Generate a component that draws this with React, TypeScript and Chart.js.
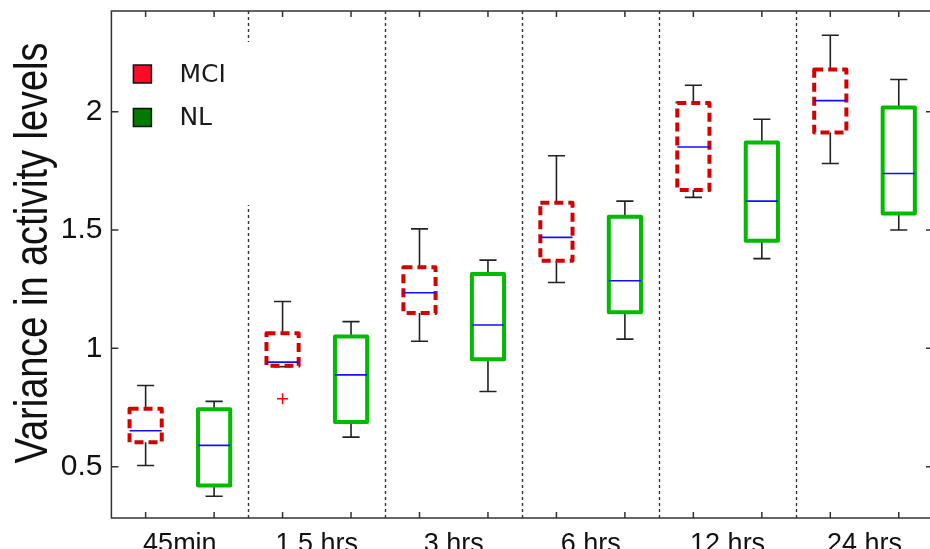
import React, { useEffect, useRef } from 'react';
import { Chart, registerables } from 'chart.js';

Chart.register(...registerables);

// ---- data ----
const categories = ['45min', '1.5 hrs', '3 hrs', '6 hrs', '12 hrs', '24 hrs'];
const seriesNames = ['MCI', 'NL'];

const mciLow = [0.505, 0.922, 1.030, 1.278, 1.638, 1.781];
const mciQ1 = [0.603, 0.926, 1.149, 1.370, 1.669, 1.912];
const mciMedian = [0.652, 0.942, 1.235, 1.469, 1.851, 2.047];
const mciQ3 = [0.745, 1.064, 1.343, 1.615, 2.037, 2.178];
const mciHigh = [0.843, 1.198, 1.505, 1.814, 2.112, 2.323];

const nlLow = [0.375, 0.625, 0.818, 1.039, 1.379, 1.500];
const nlQ1 = [0.421, 0.689, 0.954, 1.153, 1.455, 1.570];
const nlMedian = [0.590, 0.888, 1.099, 1.286, 1.622, 1.739];
const nlQ3 = [0.743, 1.050, 1.314, 1.556, 1.870, 2.018];
const nlHigh = [0.776, 1.113, 1.373, 1.622, 1.968, 2.136];

const outlierGroup = [1];
const outlierSeries = [0];
const outlierValues = [0.787];

const yTicks = [0.5, 1, 1.5, 2];
const yTitle = 'Variance in activity levels';

const series = [
  { name: seriesNames[0], low: mciLow, q1: mciQ1, med: mciMedian, q3: mciQ3, high: mciHigh, color: '#d40000', dash: [9, 5], legendFill: '#ff0a28' },
  { name: seriesNames[1], low: nlLow, q1: nlQ1, med: nlMedian, q3: nlQ3, high: nlHigh, color: '#00bb00', dash: [], legendFill: '#007a00' },
];

const posOf = (g: number, s: number) => 2 * g + s + 1;

const BOX_HALF = 0.235;
const CAP_HALF = 0.125;

const boxPlugin = {
  id: 'boxPlot',
  beforeDatasetsDraw(chart: any) {
    const { ctx, chartArea: a, scales } = chart;
    const x = scales.x;
    const y = scales.y;
    ctx.save();
    // group dividers
    ctx.strokeStyle = '#333';
    ctx.lineWidth = 1.4;
    ctx.setLineDash([3, 3]);
    for (let g = 1; g < categories.length; g++) {
      const px = Math.round(x.getPixelForValue(2 * g + 0.5)) + 0.5;
      ctx.beginPath();
      ctx.moveTo(px, a.top);
      ctx.lineTo(px, a.bottom);
      ctx.stroke();
    }
    ctx.setLineDash([]);
    const unit = x.getPixelForValue(1) - x.getPixelForValue(0);
    series.forEach((s, si) => {
      for (let g = 0; g < categories.length; g++) {
        const cx = x.getPixelForValue(posOf(g, si));
        const hw = BOX_HALF * unit;
        const cw = CAP_HALF * unit;
        const yl = y.getPixelForValue(s.low[g]);
        const y1 = y.getPixelForValue(s.q1[g]);
        const ym = y.getPixelForValue(s.med[g]);
        const y3 = y.getPixelForValue(s.q3[g]);
        const yh = y.getPixelForValue(s.high[g]);
        // whiskers
        ctx.strokeStyle = '#222';
        ctx.lineWidth = 1.6;
        ctx.setLineDash([]);
        ctx.beginPath();
        ctx.moveTo(cx, y3); ctx.lineTo(cx, yh);
        ctx.moveTo(cx - cw, yh); ctx.lineTo(cx + cw, yh);
        ctx.moveTo(cx, y1); ctx.lineTo(cx, yl);
        ctx.moveTo(cx - cw, yl); ctx.lineTo(cx + cw, yl);
        ctx.stroke();
        // box
        ctx.strokeStyle = s.color;
        ctx.lineWidth = 4;
        ctx.lineJoin = 'round';
        ctx.setLineDash(s.dash);
        ctx.beginPath();
        ctx.rect(cx - hw, y3, 2 * hw, y1 - y3);
        ctx.stroke();
        ctx.setLineDash([]);
        // median
        ctx.strokeStyle = '#1010ff';
        ctx.lineWidth = 1.6;
        ctx.beginPath();
        ctx.moveTo(cx - hw, ym);
        ctx.lineTo(cx + hw, ym);
        ctx.stroke();
      }
    });
    ctx.restore();
  },
  afterDatasetsDraw(chart: any) {
    const { ctx, chartArea: a, scales } = chart;
    const x = scales.x;
    const y = scales.y;
    ctx.save();
    // frame
    ctx.strokeStyle = '#333';
    ctx.lineWidth = 1.5;
    ctx.setLineDash([]);
    ctx.strokeRect(a.left, a.top, a.right - a.left, a.bottom - a.top);
    // inward ticks
    ctx.beginPath();
    for (let p = 1; p <= categories.length * 2; p++) {
      const px = x.getPixelForValue(p);
      ctx.moveTo(px, a.top); ctx.lineTo(px, a.top + 6);
      ctx.moveTo(px, a.bottom); ctx.lineTo(px, a.bottom - 6);
    }
    yTicks.forEach((v) => {
      const py = y.getPixelForValue(v);
      ctx.moveTo(a.left, py); ctx.lineTo(a.left + 7, py);
      ctx.moveTo(a.right, py); ctx.lineTo(a.right - 7, py);
    });
    ctx.stroke();
    // legend box (white, covers dividers)
    const lx = a.left + 10;
    const ly = a.top + 31;
    const lr = x.getPixelForValue(2.5) + 4;
    ctx.fillStyle = '#fff';
    ctx.fillRect(lx, ly, lr - lx, 163);
    series.forEach((s, si) => {
      const sy = a.top + 54 + si * 43.5;
      ctx.fillStyle = s.legendFill;
      ctx.fillRect(a.left + 22, sy, 18, 18);
      ctx.strokeStyle = '#111';
      ctx.lineWidth = 1.5;
      ctx.strokeRect(a.left + 22, sy, 18, 18);
      ctx.fillStyle = '#1a1a1a';
      ctx.font = '25px "DejaVu Sans"';
      ctx.textAlign = 'left';
      ctx.textBaseline = 'middle';
      ctx.fillText(s.name, a.left + 68, sy + 10);
    });
    // y title (narrow)
    ctx.translate(47, 253);
    ctx.rotate(-Math.PI / 2);
    ctx.font = '47px "Liberation Sans"';
    const w = ctx.measureText(yTitle).width;
    ctx.scale(421 / w, 1);
    ctx.fillStyle = '#111';
    ctx.textAlign = 'center';
    ctx.textBaseline = 'alphabetic';
    ctx.fillText(yTitle, 0, 0);
    ctx.restore();
  },
};

export default function App() {
  const ref = useRef<HTMLCanvasElement | null>(null);
  useEffect(() => {
    if (!ref.current) return;
    const chart = new Chart(ref.current, {
      type: 'scatter',
      data: {
        datasets: [
          {
            label: 'outliers',
            data: outlierValues.map((v, i) => ({ x: posOf(outlierGroup[i], outlierSeries[i]), y: v })),
            pointStyle: 'cross',
            pointRadius: 5.5,
            borderColor: '#ff0000',
            backgroundColor: '#ff0000',
            borderWidth: 1.5,
          },
        ],
      },
      options: {
        responsive: false,
        devicePixelRatio: 1,
        animation: false,
        layout: { padding: { left: 0, top: 11, right: 6.5, bottom: 0 } },
        plugins: { legend: { display: false }, tooltip: { enabled: false } },
        scales: {
          x: {
            type: 'linear',
            min: 0.5,
            max: 12.5,
            grid: { display: false, drawTicks: false },
            border: { display: false },
            afterFit: (s: any) => { s.height = 31; s.paddingLeft = 0; s.paddingRight = 0; },
            afterBuildTicks: (s: any) => { s.ticks = categories.map((_, g) => ({ value: 2 * g + 1.5 })); },
            ticks: {
              autoSkip: false,
              maxRotation: 0,
              padding: 10,
              color: '#111',
              font: { family: '"Liberation Sans", Arial, sans-serif', size: 27 },
              callback: (_v: any, i: number) => categories[i],
            },
          },
          y: {
            type: 'linear',
            min: 0.2832,
            max: 2.4255,
            grid: { display: false, drawTicks: false },
            border: { display: false },
            afterFit: (s: any) => { s.width = 111.4; s.paddingTop = 0; s.paddingBottom = 0; },
            afterBuildTicks: (s: any) => { s.ticks = yTicks.map((v) => ({ value: v })); },
            ticks: {
              padding: 9,
              color: '#111',
              font: { family: '"Liberation Sans", Arial, sans-serif', size: 30 },
              callback: (v: any) => String(v),
            },
          },
        },
      },
      plugins: [boxPlugin],
    } as any);
    return () => chart.destroy();
  }, []);
  return (
    <div style={{ position: 'fixed', left: 0, top: 0, width: 930, height: 549, overflow: 'hidden', background: '#fff' }}>
      <canvas ref={ref} width={940} height={549} style={{ display: 'block', width: 940, height: 549 }} />
    </div>
  );
}
